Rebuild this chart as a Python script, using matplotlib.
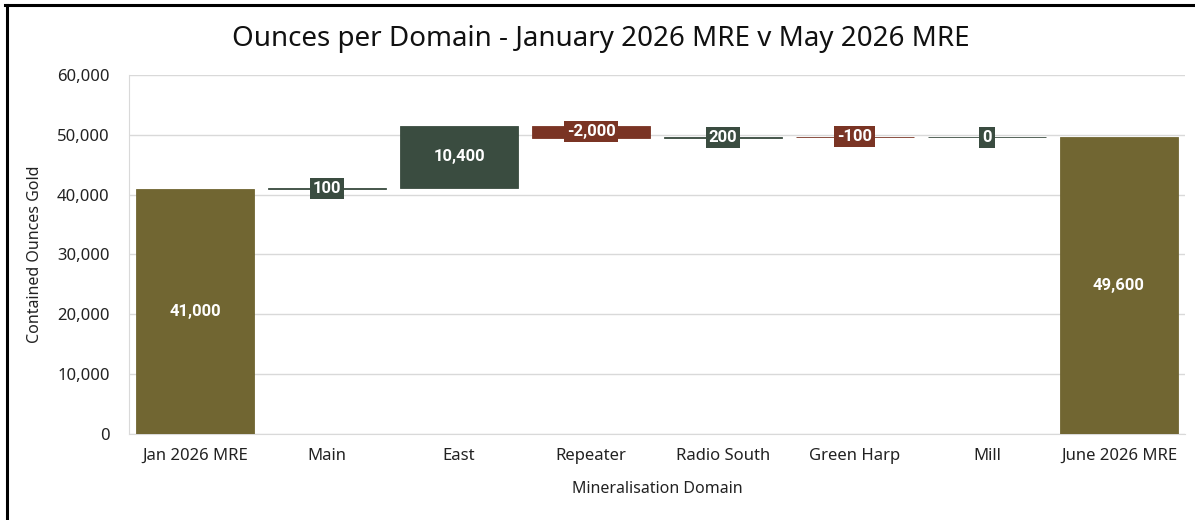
import matplotlib
matplotlib.use('Agg')
import matplotlib.pyplot as plt
from matplotlib.lines import Line2D

categories = ["Jan 2026 MRE", "Main", "East", "Repeater", "Radio South",
              "Green Harp", "Mill", "June 2026 MRE"]
changes = [41000, 100, 10400, -2000, 200, -100, 0, 49600]
is_total = [True, False, False, False, False, False, False, True]

OLIVE = "#716632"
GREEN = "#3a4c40"
RED = "#7a3424"

plt.rcParams['font.family'] = ['Noto Sans', 'DejaVu Sans']

# running totals -> bottoms / heights
bottoms, heights, colors = [], [], []
running = 0
for v, tot in zip(changes, is_total):
    if tot:
        bottoms.append(0)
        heights.append(v)
        colors.append(OLIVE)
        running = v
    else:
        bottoms.append(running if v >= 0 else running + v)
        heights.append(abs(v))
        colors.append(GREEN if v >= 0 else RED)
        running += v

fig = plt.figure(figsize=(11.95, 5.2), dpi=100)
ax = fig.add_axes([0.108, 0.1654, 0.8836, 0.6904])

x = range(len(categories))
ax.bar(x, heights, bottom=bottoms, width=0.9, color=colors,
       edgecolor=colors, linewidth=0.6, zorder=3)

for i, (v, b, h, c) in enumerate(zip(changes, bottoms, heights, colors)):
    ax.text(i, b + h / 2, f"{v:,}", ha='center', va='center', color='white',
            fontsize=12, fontweight='bold', family=['Roboto', 'DejaVu Sans'],
            zorder=5,
            bbox=dict(boxstyle='square,pad=0.18', facecolor=c, edgecolor='none'))

ax.set_xlim(-0.5, len(categories) - 0.5)
ax.set_ylim(0, 60000)
ax.set_yticks(range(0, 60001, 10000))
ax.yaxis.set_major_formatter(matplotlib.ticker.FuncFormatter(lambda v, p: f"{int(v):,}"))
ax.set_xticks(list(x))
ax.set_xticklabels(categories)
ax.tick_params(axis='both', length=0, labelsize=12, colors='#222222')
ax.tick_params(axis='x', pad=10)
ax.tick_params(axis='y', pad=14)

ax.grid(axis='y', color='#d9d9d9', linewidth=1, zorder=0)
for s in ['top', 'right']:
    ax.spines[s].set_visible(False)
for s in ['left', 'bottom']:
    ax.spines[s].set_color('#d9d9d9')

ax.set_xlabel('Mineralisation Domain', fontsize=11.5, labelpad=12, color='#222222')
ax.set_ylabel('Contained Ounces Gold', fontsize=11.5, labelpad=10, color='#222222')
fig.text(0.503, 0.925, 'Ounces per Domain - January 2026 MRE v May 2026 MRE',
         ha='center', va='center', fontsize=20, color='#111111')

# outer frame (left and top edges only visible)
fig.add_artist(Line2D([0.0055, 0.0055], [0, 0.99], transform=fig.transFigure,
                      color='black', linewidth=2.2))
fig.add_artist(Line2D([0.0045, 1.0], [0.99, 0.99], transform=fig.transFigure,
                      color='black', linewidth=2.2))

fig.savefig('out.png', dpi=100)
